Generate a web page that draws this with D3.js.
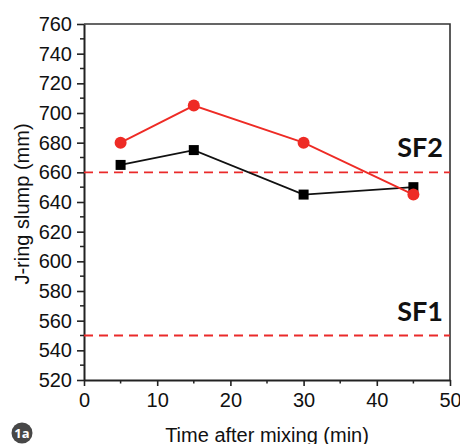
<!DOCTYPE html>
<html>
<head>
<meta charset="utf-8">
<script src="https://cdn.jsdelivr.net/npm/d3@7"></script>
<style>
  html, body { margin: 0; padding: 0; background: #fff; }
  svg { display: block; }
</style>
</head>
<body>
<div id="chart"></div>
<script>
// ---- data ----
const times = [5, 15, 30, 45];
const seriesBlack = [665, 675, 645, 650];
const seriesRed = [680, 705, 680, 645];
const limitValues = [660, 550];
const limitLabels = ["SF2", "SF1"];
const xTicks = [0, 10, 20, 30, 40, 50];
const yTicks = [520, 540, 560, 580, 600, 620, 640, 660, 680, 700, 720, 740, 760];
const xTitle = "Time after mixing (min)";
const yTitle = "J-ring slump (mm)";
const badgeText = "1a";

const W = 460, H = 444;
const m = { left: 84, top: 24, right: 10, bottom: 64 };

const svg = d3.select("#chart").append("svg")
  .attr("width", W).attr("height", H);

const x = d3.scaleLinear().domain([0, 50]).range([m.left, W - m.right]);
const y = d3.scaleLinear().domain([520, 760]).range([H - m.bottom, m.top]);

const font = "'Liberation Sans', Arial, sans-serif";
const axisColor = "#222";

// frame top & right
svg.append("path")
  .attr("d", `M${x(0)},${y(760)}H${x(50)}V${y(520)}`)
  .attr("fill", "none").attr("stroke", "#333").attr("stroke-width", 1.6);

// minor ticks
const xMinor = d3.range(5, 50, 10);
const yMinor = d3.range(530, 760, 20);
svg.append("g").selectAll("line").data(xMinor).join("line")
  .attr("x1", d => x(d)).attr("x2", d => x(d))
  .attr("y1", y(520)).attr("y2", y(520) + 3.5)
  .attr("stroke", axisColor).attr("stroke-width", 1.5);
svg.append("g").selectAll("line").data(yMinor).join("line")
  .attr("y1", d => y(d)).attr("y2", d => y(d))
  .attr("x1", x(0)).attr("x2", x(0) - 4)
  .attr("stroke", axisColor).attr("stroke-width", 1.5);

// axes
const xAxis = svg.append("g")
  .attr("transform", `translate(0,${y(520)})`)
  .call(d3.axisBottom(x).tickValues(xTicks).tickSize(6).tickPadding(7).tickSizeOuter(0));
const yAxis = svg.append("g")
  .attr("transform", `translate(${x(0)},0)`)
  .call(d3.axisLeft(y).tickValues(yTicks).tickSize(7).tickPadding(5).tickSizeOuter(0));

[xAxis, yAxis].forEach(g => {
  g.select(".domain").attr("stroke", axisColor).attr("stroke-width", 2);
  g.selectAll(".tick line").attr("stroke", axisColor).attr("stroke-width", 1.6);
  g.selectAll(".tick text").attr("fill", "#111")
    .style("font-family", font).style("font-size", "20px");
});

// limit lines
const red = "#ee2b25";
svg.append("g").selectAll("line").data(limitValues).join("line")
  .attr("x1", x(0)).attr("x2", x(50))
  .attr("y1", d => y(d)).attr("y2", d => y(d))
  .attr("stroke", "#ea2a2a").attr("stroke-width", 1.8)
  .attr("stroke-dasharray", "9,6");

svg.append("g").selectAll("text").data(limitValues).join("text")
  .attr("x", x(50) - 7)
  .attr("y", d => y(d) - 15)
  .attr("text-anchor", "end")
  .style("font-family", "Lato, 'Open Sans', sans-serif")
  .style("font-weight", "bold").style("font-size", "27px")
  .attr("fill", "#111")
  .text((d, i) => limitLabels[i]);

// series
const line = d3.line().x((d, i) => x(times[i])).y(d => y(d));

svg.append("path").datum(seriesBlack)
  .attr("d", line).attr("fill", "none")
  .attr("stroke", "#111").attr("stroke-width", 1.8);
svg.append("g").selectAll("rect").data(seriesBlack).join("rect")
  .attr("x", (d, i) => x(times[i]) - 5).attr("y", d => y(d) - 5)
  .attr("width", 10).attr("height", 10).attr("fill", "#000");

svg.append("path").datum(seriesRed)
  .attr("d", line).attr("fill", "none")
  .attr("stroke", red).attr("stroke-width", 1.8);
svg.append("g").selectAll("circle").data(seriesRed).join("circle")
  .attr("cx", (d, i) => x(times[i])).attr("cy", d => y(d))
  .attr("r", 6).attr("fill", red);

// axis titles
svg.append("text")
  .attr("x", (x(0) + x(50)) / 2).attr("y", 442)
  .attr("text-anchor", "middle")
  .style("font-family", font).style("font-size", "20px").attr("fill", "#111")
  .text(xTitle);

svg.append("text")
  .attr("transform", `translate(29,${(y(520) + y(760)) / 2 + 2}) rotate(-90)`)
  .attr("text-anchor", "middle")
  .style("font-family", font).style("font-size", "20px").attr("fill", "#111")
  .text(yTitle);

// badge
svg.append("circle").attr("cx", 22).attr("cy", 433).attr("r", 10.5).attr("fill", "#474747");
svg.append("text").attr("x", 22).attr("y", 438)
  .attr("text-anchor", "middle")
  .style("font-family", "'Open Sans', sans-serif").style("font-weight", "bold")
  .style("font-size", "13px").attr("fill", "#fff")
  .text(badgeText);
</script>
</body>
</html>
